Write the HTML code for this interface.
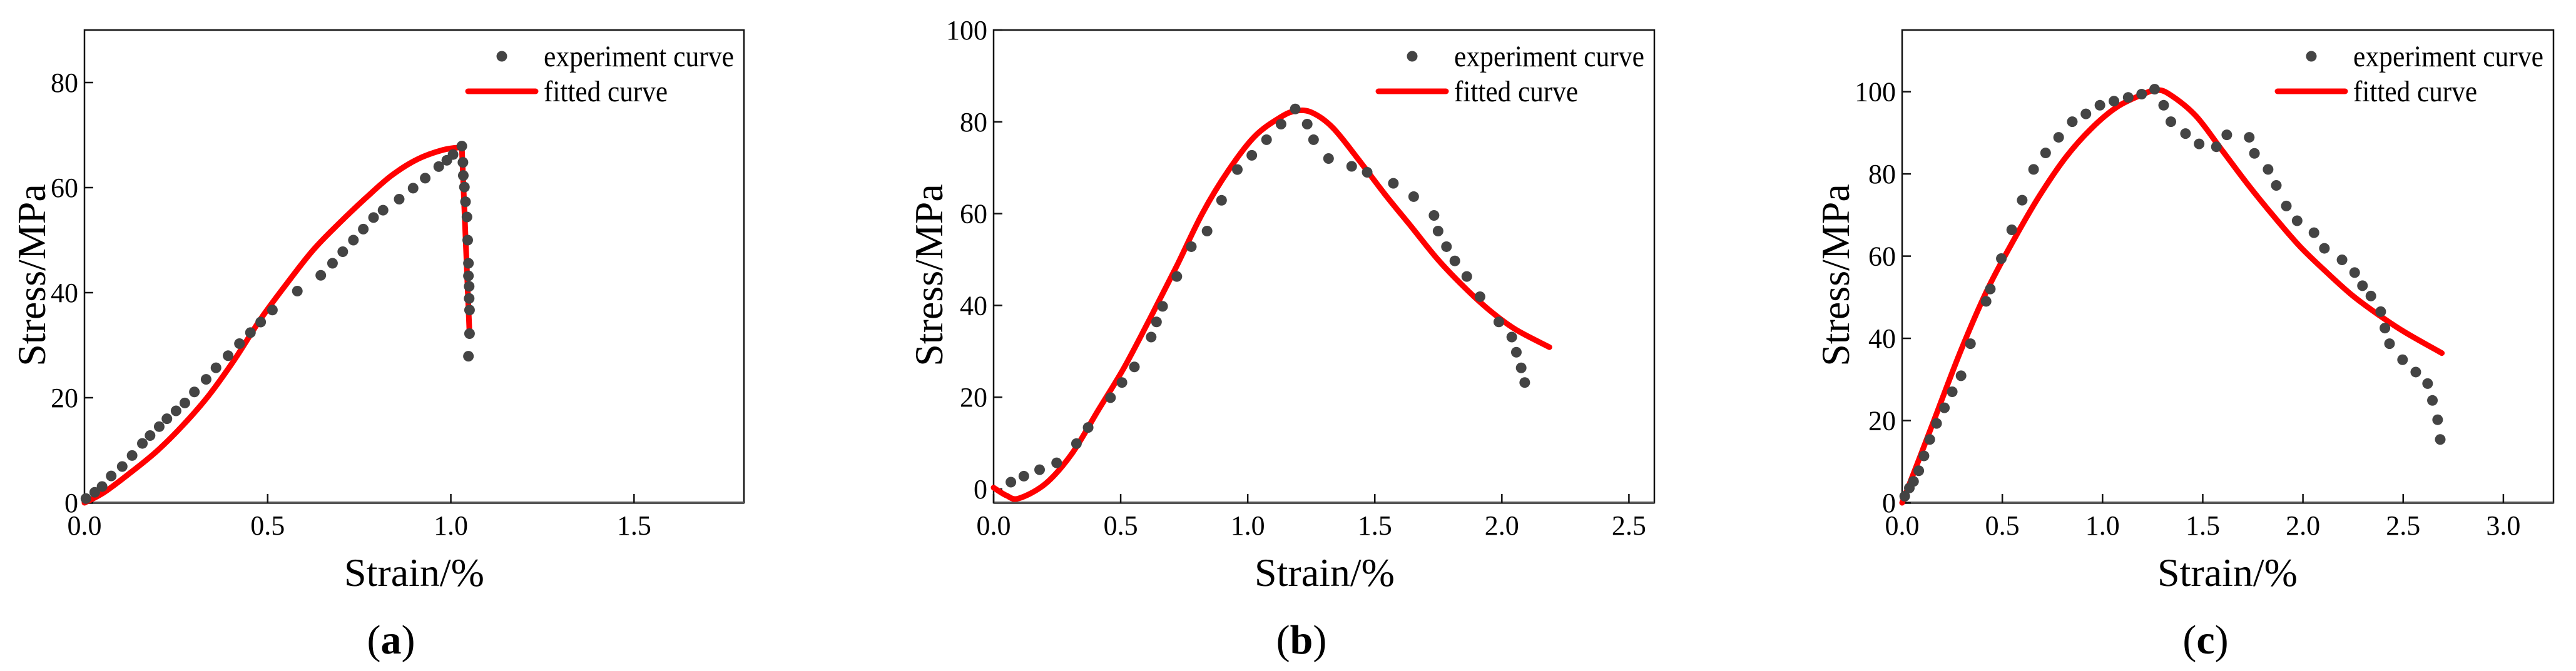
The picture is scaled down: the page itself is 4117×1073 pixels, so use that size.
<!DOCTYPE html>
<html><head><meta charset="utf-8"><style>
html,body{margin:0;padding:0;background:#fff;}
svg{display:block;font-family:"Liberation Serif",serif;}
</style></head><body>
<svg id="fig" width="4117" height="1073" viewBox="0 0 4117 1073" xmlns="http://www.w3.org/2000/svg"></svg>
<script>
// Panel (a) data
const aExpX=[0.004,0.028,0.048,0.073,0.103,0.13,0.158,0.179,0.204,0.225,0.25,0.274,0.3,0.332,0.359,0.392,0.423,0.453,0.481,0.513,0.581,0.645,0.677,0.705,0.734,0.761,0.789,0.815,0.859,0.897,0.93,0.967,0.989,1.006,1.03,1.033,1.034,1.037,1.04,1.044,1.046,1.048,1.048,1.05,1.05,1.051,1.051,1.048];
const aExpY=[0.8,2.0,3.1,5.1,6.9,9.0,11.3,12.8,14.5,16.0,17.5,19.0,21.1,23.5,25.7,28.0,30.3,32.4,34.4,36.7,40.3,43.3,45.6,47.8,50.0,52.1,54.3,55.7,57.8,59.9,61.8,64.0,65.2,66.3,67.9,64.8,62.3,60.1,57.3,54.4,50.0,45.6,43.2,41.2,38.9,36.7,32.2,27.9];
const aFitX=[0,0.054,0.125,0.197,0.268,0.339,0.41,0.481,0.553,0.624,0.695,0.766,0.838,0.909,0.98,1.03,1.051];
const aFitY=[0,2.0,5.7,9.8,14.7,20.4,27.3,35.0,41.8,48.1,53.2,57.9,62.3,65.4,67.2,67.7,32.2];
// Panel (b) data
const bExpX=[0.068,0.119,0.181,0.248,0.326,0.372,0.46,0.505,0.554,0.62,0.641,0.665,0.721,0.778,0.84,0.897,0.959,1.016,1.074,1.131,1.187,1.234,1.259,1.318,1.409,1.47,1.573,1.653,1.733,1.749,1.782,1.815,1.862,1.914,1.988,2.039,2.057,2.076,2.09];
const bExpY=[1.5,2.8,4.2,5.7,9.9,13.4,19.9,23.2,26.6,33.1,36.4,39.8,46.3,52.8,56.2,62.9,69.6,72.7,76.1,79.5,82.8,79.5,76.1,72.0,70.3,69.0,66.6,63.7,59.6,56.2,52.8,49.7,46.3,41.9,36.4,33.1,29.8,26.4,23.2];
const bFitX=[0,0.05,0.099,0.205,0.308,0.411,0.513,0.616,0.719,0.821,0.924,1.027,1.129,1.191,1.253,1.335,1.437,1.54,1.643,1.745,1.848,1.95,2.053,2.187];
const bFitY=[0.3,-1.4,-2.05,1.2,7.7,17.1,26.4,37.2,48.4,60.0,69.4,76.8,81.0,82.4,82.0,78.7,71.7,64.2,57.2,50.2,44.2,39.0,34.8,30.9];
// Panel (c) data
const cExpX=[0.013,0.036,0.057,0.083,0.109,0.138,0.172,0.211,0.25,0.294,0.341,0.419,0.44,0.495,0.547,0.599,0.656,0.716,0.781,0.849,0.917,0.987,1.057,1.128,1.195,1.26,1.305,1.341,1.414,1.482,1.568,1.62,1.732,1.758,1.826,1.867,1.917,1.971,2.055,2.107,2.195,2.258,2.297,2.339,2.388,2.409,2.432,2.497,2.563,2.622,2.646,2.672,2.685];
const cExpY=[1.6,3.6,5.2,7.8,11.4,15.4,19.3,23.1,27.0,30.9,38.7,49.0,52.0,59.4,66.4,73.6,81.1,85.1,88.9,92.7,94.6,96.7,97.7,98.6,99.4,100.6,96.7,92.7,89.8,87.3,86.6,89.5,88.9,85.0,81.1,77.2,72.2,68.6,65.7,61.9,59.1,56.0,52.8,50.3,46.5,42.5,38.7,34.8,31.8,29.0,24.9,20.2,15.4];
const cFitX=[0,0.083,0.161,0.292,0.422,0.552,0.682,0.813,0.943,1.073,1.203,1.268,1.333,1.464,1.594,1.724,1.854,1.984,2.115,2.245,2.375,2.505,2.693];
const cFitY=[0,10.4,20.3,36.9,51.5,63.5,74.4,83.8,91.0,96.3,99.4,100.4,99.4,94.2,85.9,77.5,69.7,62.4,56.2,50.5,45.8,41.6,36.4];
// Tick labels
const aXTicks=["0.0","0.5","1.0","1.5"];
const bXTicks=["0.0","0.5","1.0","1.5","2.0","2.5"];
const cXTicks=["0.0","0.5","1.0","1.5","2.0","2.5","3.0"];
const aYTicks=["0","20","40","60","80"];
const bYTicks=["0","20","40","60","80","100"];
const cYTicks=["0","20","40","60","80","100"];

const NS="http://www.w3.org/2000/svg";
const svg=document.getElementById('fig');
function mk(tag,attrs,parent,text){const e=document.createElementNS(NS,tag);for(const k in attrs)e.setAttribute(k,attrs[k]);if(text!==undefined)e.textContent=text;(parent||svg).appendChild(e);return e;}

function smoothPath(pts,straightLast){
  let d='M'+pts[0][0].toFixed(1)+' '+pts[0][1].toFixed(1);
  const n=pts.length;
  const lastCurve=straightLast?n-2:n-1;
  for(let i=0;i<lastCurve;i++){
    const p0=pts[Math.max(0,i-1)],p1=pts[i],p2=pts[i+1],p3=pts[Math.min(lastCurve,i+2)];
    const c1=[p1[0]+(p2[0]-p0[0])/6,p1[1]+(p2[1]-p0[1])/6];
    const c2=[p2[0]-(p3[0]-p1[0])/6,p2[1]-(p3[1]-p1[1])/6];
    d+=' C'+c1[0].toFixed(1)+' '+c1[1].toFixed(1)+' '+c2[0].toFixed(1)+' '+c2[1].toFixed(1)+' '+p2[0].toFixed(1)+' '+p2[1].toFixed(1);
  }
  if(straightLast)d+=' L'+pts[n-1][0].toFixed(1)+' '+pts[n-1][1].toFixed(1);
  return d;
}

function panel(p){
  const g=mk('g',{});
  
  
  const sx=v=>p.L+(v-p.x0)/(p.x1-p.x0)*(p.R-p.L);
  const sy=v=>p.B-(v-p.y0)/(p.y1-p.y0)*(p.B-p.T);
  const frame=mk('rect',{x:p.L,y:p.T,width:p.R-p.L,height:p.B-p.T,fill:'none',stroke:'#111','stroke-width':2.5},g);
  
  
  const xax=mk('line',{x1:p.L,x2:p.R,y1:p.B,y2:p.B,stroke:'#555','stroke-width':4},g);
  
  
  p.xt.forEach(t=>{const X=sx(parseFloat(t));
    mk('line',{x1:X,x2:X,y1:p.B,y2:p.B-14,stroke:'#111','stroke-width':2.5},g);
    const tl=mk('text',{x:X,y:855,'text-anchor':'middle','font-size':44,fill:'#000'},g,t);
    
    
  });
  p.yt.forEach(t=>{const Y=sy(parseFloat(t));
    mk('line',{x1:p.L,x2:p.L+14,y1:Y,y2:Y,stroke:'#111','stroke-width':2.5},g);
    const tl=mk('text',{x:p.L-10,y:Y+15,'text-anchor':'end','font-size':44,fill:'#000'},g,t);
    
    
  });
  const pts=p.fx.map((v,i)=>[sx(v),sy(p.fy[i])]);
  const fit=mk('path',{d:smoothPath(pts,p.id==='a'),fill:'none',stroke:'#ff0000','stroke-width':9,'stroke-linejoin':'round','stroke-linecap':'round'},g);
  
  
  p.ex.forEach((v,i)=>{
    const c=mk('circle',{cx:sx(v),cy:sy(p.ey[i]),r:8.5,fill:'#444'},g);
    
    
  });
  const lg=mk('g',{},g);
  
  
  mk('circle',{cx:p.R-387,cy:90,r:8.5,fill:'#444'},lg);
  const t1=mk('text',{x:p.R-320,y:106,'font-size':48,fill:'#000',textLength:304,lengthAdjust:'spacingAndGlyphs'},lg,'experiment curve');
  
  
  mk('line',{x1:p.R-441,x2:p.R-333,y1:146,y2:146,stroke:'#ff0000','stroke-width':9,'stroke-linecap':'round'},lg);
  const t2=mk('text',{x:p.R-320,y:162,'font-size':48,fill:'#000',textLength:198,lengthAdjust:'spacingAndGlyphs'},lg,'fitted curve');
  
  
  const xtit=mk('text',{x:p.xtx,y:937,'text-anchor':'middle','font-size':64,fill:'#000'},g,'Strain/%');
  
  
  const ytit=mk('text',{x:0,y:0,'text-anchor':'middle','font-size':64,fill:'#000',transform:'translate('+(p.ytx+22)+',440) rotate(-90)'},g,'Stress/MPa');
  
  
  const lab=mk('text',{x:p.lx,y:1045,'text-anchor':'middle','font-size':66,fill:'#000'},g);
  
  
  mk('tspan',{},lab,'(');
  mk('tspan',{'font-weight':'bold'},lab,p.id);
  mk('tspan',{},lab,')');
}
panel({id:'a',L:135,R:1189,T:48,B:804,x0:0,x1:1.8,y0:0,y1:90,xt:aXTicks,yt:aYTicks,ex:aExpX,ey:aExpY,fx:aFitX,fy:aFitY,xtx:662,ytx:50,lx:625});
panel({id:'b',L:1588,R:2644,T:48,B:804,x0:0,x1:2.6,y0:-3,y1:100,xt:bXTicks,yt:bYTicks,ex:bExpX,ey:bExpY,fx:bFitX,fy:bFitY,xtx:2117,ytx:1484,lx:2080});
panel({id:'c',L:3040,R:4081,T:48,B:804,x0:0,x1:3.25,y0:0,y1:115,xt:cXTicks,yt:cYTicks,ex:cExpX,ey:cExpY,fx:cFitX,fy:cFitY,xtx:3560,ytx:2933,lx:3525});
</script>
</body></html>
